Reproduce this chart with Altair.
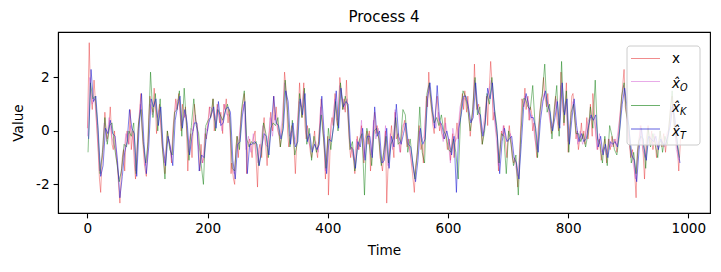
import altair as alt
import pandas as pd

TITLE = "Process 4"
X_LABEL = "Time"
Y_LABEL = "Value"
X_TICKS = [0, 200, 400, 600, 800, 1000]
Y_TICKS = [-2, 0, 2]

# true process x: (time, value)
x_series = [
    (0, 0.1), (3, 3.3), (5, 1.5), (8, 0.8), (11, 1.9), (13, 1.2), (15, 0.3), (18, -0.8), (20, -1.8), (22, -2.3),
    (24, -1.2), (27, -0.5), (29, 0.7), (31, 0.0), (33, -0.3), (35, -0.1), (38, 0.9), (41, -0.5), (43, -0.7), (45, 0.0),
    (48, -1.0), (50, -1.3), (52, -2.1), (54, -2.7), (56, -1.8), (58, -1.0), (60, -0.7), (62, -1.5), (64, -0.3), (66, 0.0),
    (69, -0.5), (71, 0.8), (73, -0.7), (76, 0.0), (78, -1.2), (80, -1.8), (82, -1.0), (84, 0.0), (87, 0.8), (89, 1.4),
    (91, 0.0), (93, -0.7), (95, -1.3), (98, -1.7), (100, -0.7), (102, 0.5), (104, 1.3), (106, 0.9), (109, 0.7), (111, 1.6),
    (113, 1.0), (115, -0.1), (118, 0.7), (120, 1.0), (122, 0.2), (124, -0.5), (127, -1.1), (129, -1.6), (131, -0.6), (133, 0.0),
    (135, -0.3), (138, -0.7), (140, -1.2), (142, 0.0), (144, 0.5), (147, 1.2), (149, 0.8), (152, 1.4), (154, 0.8), (156, 0.0),
    (158, 1.0), (161, 0.5), (163, 0.9), (165, 0.0), (167, -1.5), (169, -0.5), (172, -0.1), (174, -1.0), (176, 0.2), (178, 1.0),
    (180, 0.4), (183, 0.2), (185, -0.7), (187, -1.5), (189, -0.5), (191, -1.2), (194, -1.0), (196, -0.1), (198, -0.3), (200, 0.2),
    (203, 0.9), (205, 0.5), (207, 0.7), (209, 1.2), (211, 0.0), (214, 0.5), (216, 1.0), (218, 0.7), (220, 0.3), (222, 0.7),
    (225, -0.1), (227, 1.0), (229, 0.8), (231, 1.2), (234, 0.3), (236, 0.8), (238, -0.3), (239, -1.6), (240, -1.2), (243, -1.8),
    (245, -2.0), (247, -0.6), (249, -0.2), (251, -1.0), (254, 0.0), (256, 0.7), (258, 0.9), (261, 1.4), (263, 0.7), (265, -1.6),
    (267, -0.5), (270, -0.3), (272, -0.6), (274, -1.0), (276, -0.3), (279, 0.0), (281, -1.2), (283, -2.1), (285, -0.7), (287, -0.5),
    (290, -1.0), (292, 0.0), (294, 0.5), (296, -0.3), (299, -1.3), (301, -0.3), (303, 0.0), (305, 0.7), (308, 0.0), (310, 1.3),
    (312, 0.4), (314, 0.9), (317, 0.0), (319, -0.2), (321, -0.6), (323, 0.0), (325, 0.3), (328, 2.2), (330, 1.7), (332, 1.0),
    (333, 0.0), (335, -0.6), (337, -0.3), (340, 0.2), (342, -0.1), (344, -0.7), (346, -1.6), (349, 0.0), (351, 0.8), (353, 1.8),
    (355, 1.0), (357, 0.5), (360, 1.8), (362, 0.2), (364, -0.3), (366, 0.2), (368, -0.2), (371, -0.8), (373, -1.0), (375, -0.6),
    (378, 0.0), (380, -0.6), (383, -1.0), (385, -0.2), (387, 0.4), (389, 1.2), (392, 0.0), (394, -0.6), (396, -1.8), (398, -1.0),
    (400, -0.2), (401, -2.4), (403, -1.2), (405, 0.2), (407, 0.5), (409, 0.2), (412, 1.4), (414, 0.5), (416, 0.2), (418, 0.9),
    (420, 2.0), (423, 1.3), (425, 0.8), (427, 1.2), (429, 0.7), (431, 1.9), (434, 0.3), (436, -0.5), (438, -1.0), (440, -0.6),
    (443, -1.1), (445, -1.6), (447, -0.8), (449, -0.2), (451, -0.7), (454, -0.3), (456, 0.2), (458, -0.6), (460, -1.2), (462, -0.3),
    (465, 0.0), (467, -0.5), (469, 0.0), (471, -1.5), (474, -0.6), (476, 0.2), (478, 0.7), (480, -0.1), (482, 0.2), (485, -0.3),
    (487, -1.0), (489, -1.2), (491, -1.5), (494, -0.6), (496, 0.0), (498, -2.7), (500, -1.5), (502, -1.0), (504, -0.3), (506, 0.2),
    (508, -0.5), (510, -1.0), (512, 0.7), (514, -0.3), (517, -0.1), (519, -0.5), (521, -0.8), (523, -0.2), (526, 0.2), (528, 0.4),
    (530, -0.2), (532, -0.6), (534, -0.3), (537, -0.8), (539, -1.2), (541, -1.6), (544, -2.3), (546, -1.3), (548, -1.0), (550, -0.5),
    (552, 0.2), (555, -0.7), (557, -0.5), (559, -1.2), (562, 0.3), (564, 1.3), (566, 0.9), (568, 2.2), (570, 1.3), (573, 0.7),
    (575, 0.2), (577, -0.1), (579, 0.7), (582, 1.3), (584, 0.5), (586, 0.0), (588, 0.3), (590, -0.1), (593, -0.3), (595, 0.5),
    (597, -0.3), (599, -0.7), (602, -0.3), (604, -1.1), (606, -0.6), (608, -0.1), (610, -1.0), (613, -0.2), (615, 0.3), (617, -0.3),
    (619, 0.4), (622, 1.0), (624, 1.4), (626, 0.8), (628, 1.5), (631, 0.7), (633, 1.3), (635, 0.5), (637, -0.2), (639, 0.3),
    (642, 0.9), (644, 2.5), (646, 1.3), (648, 0.8), (651, 1.0), (653, 0.5), (655, 0.0), (657, -0.5), (659, -0.1), (662, 0.5),
    (664, 1.3), (666, 0.2), (667, 0.9), (669, 1.7), (671, 2.6), (673, 1.9), (675, 0.4), (677, 0.7), (680, 0.0), (682, -0.3),
    (684, -1.5), (687, -0.5), (689, 0.0), (691, -0.2), (693, 0.2), (696, -0.5), (698, -1.0), (700, -0.2), (702, 0.2), (705, -0.5),
    (707, -1.0), (709, -1.2), (711, -1.0), (714, -1.3), (716, -2.1), (718, -1.7), (719, -1.0), (721, 0.2), (723, 1.2), (726, 0.9),
    (728, 1.6), (730, 0.8), (733, 1.3), (735, 0.4), (737, 0.9), (739, 0.7), (741, 0.0), (743, 0.3), (745, -0.3), (748, -1.0),
    (750, 0.0), (752, 0.5), (755, 1.2), (757, 1.3), (759, 2.0), (761, 1.3), (764, 0.9), (766, 1.4), (768, 0.8), (770, 0.4),
    (772, -0.1), (775, 0.3), (777, 0.9), (779, 1.3), (781, 0.5), (784, 0.0), (786, 0.5), (788, 2.2), (791, 0.9), (793, 0.2),
    (795, 0.9), (797, 1.8), (800, -0.8), (802, 0.0), (804, 0.5), (806, 1.3), (808, 1.4), (811, 0.5), (813, -0.3), (815, 0.0),
    (817, -0.7), (820, -0.2), (822, 0.3), (824, -0.3), (826, 0.0), (828, -0.5), (831, 0.5), (833, -0.3), (835, 0.2), (837, 1.0),
    (840, -0.2), (841, 1.4), (844, 0.5), (847, -0.3), (849, -0.7), (852, -0.3), (855, -1.1), (858, -0.7), (861, -0.3), (864, -1.2),
    (867, -0.3), (870, -0.7), (873, -0.2), (875, -0.6), (878, -0.3), (881, -0.8), (884, 0.0), (887, 0.8), (890, 1.5), (893, 2.3),
    (895, 0.9), (898, 0.5), (901, -0.3), (904, -1.0), (907, -0.7), (910, -1.3), (913, -2.5), (915, -0.8), (918, -0.3), (921, 0.2),
    (924, -0.5), (927, -1.8), (930, -0.3), (933, 0.2), (936, -0.5), (939, 0.0), (941, -0.7), (944, -0.2), (947, -1.0), (950, -0.5),
    (953, 0.0), (956, -0.6), (959, -0.1), (962, -0.8), (964, -0.3), (967, 0.0), (970, 0.8), (973, 1.3), (976, 0.3), (979, -0.3),
    (982, -0.7), (984, -1.5), (987, -0.3),
]

# estimates, one value every 4 time steps
est_times = list(range(0, 988, 4))

xo_vals = [
    -0.2, 2.0, 1.0, 1.2, 0.1, -1.5, -1.0, 0.3, -0.4, 0.5,
    -0.2, -0.5, -0.8, -1.8, -1.6, -0.9, -0.1, -0.5, 0.2, -0.3,
    -1.5, -0.2, 1.0, -0.1, -1.3, -0.9, 1.0, 0.6, 1.1, 0.5,
    0.8, -0.3, -1.2, -0.5, -0.3, -1.0, 0.3, 1.1, 1.2, 0.2,
    0.5, 0.6, -0.8, 0.1, 0.0, 0.6, -0.5, -0.8, -1.2, 0.1,
    0.0, 0.9, 0.8, 0.4, 0.8, 0.5, 0.0, 1.0, 0.6, 0.6,
    -1.0, -1.6, -0.6, -0.3, 0.5, 1.0, -0.7, -0.2, -0.8, -0.1,
    -0.8, -1.2, -0.5, 0.2, -0.5, -0.6, 0.5, -0.2, 0.6, 0.1,
    -0.2, 0.4, 1.8, 1.2, -0.2, 0.0, -0.5, -0.1, 1.1, 0.9,
    1.5, -0.1, -0.4, -0.7, -0.6, -0.4, -0.8, 0.9, 0.2, -1.5,
    -0.4, -0.3, 0.5, 1.2, 0.4, 1.7, 1.1, 0.8, 1.2, -0.3,
    -0.8, -1.1, -0.3, -0.7, 0.4, -1.0, -0.3, -0.1, -0.9, 0.4,
    -0.3, 0.1, -0.9, -1.2, 0.2, -1.3, -0.1, -0.7, 0.8, -0.1,
    -0.8, 0.2, 0.3, -0.4, -0.7, -1.2, -1.7, -1.2, 0.0, -0.4,
    -0.2, 1.1, 1.7, 1.2, 0.2, 0.1, 0.7, 0.1, -0.4, 0.3,
    -0.3, -1.2, 0.1, -0.4, -0.2, 0.9, 1.2, 1.2, 1.1, 0.4,
    0.4, 1.9, 1.0, 0.5, -0.1, 0.4, 1.1, 1.5, 1.9, 0.7,
    -0.2, -1.3, -0.5, 0.2, -0.3, -0.4, -0.1, -0.9, -1.3, -1.7,
    -0.6, 0.8, 1.3, 1.2, 0.4, 0.6, -0.2, -0.7, 0.3, 1.0,
    1.4, 1.1, 0.6, 0.1, 0.4, 1.2, 0.2, 1.7, 0.7, 1.1,
    -0.4, 0.3, 1.1, 0.3, -0.5, 0.0, -0.5, -0.2, 0.3, 0.5,
    0.5, 0.3, -0.7, -0.1, -0.8, -0.6, -0.9, -0.3, -0.6, -0.3,
    -0.5, 0.2, 0.9, 1.7, 1.0, -0.2, -0.8, -1.2, -1.8, -0.8,
    0.2, -0.7, -1.0, -0.3, -0.2, -0.5, -0.1, -0.6, -0.4, -0.4,
    -0.6, -0.1, 0.1, 0.9, 0.5, -0.7, -1.1,
]

xk_vals = [
    -0.8, 1.8, 1.2, 1.3, 0.2, -1.6, -0.8, 0.5, -0.5, 0.2,
    0.3, -0.6, -1.2, -1.9, -1.4, -0.5, -0.6, 0.0, -0.2, 0.3,
    -1.6, 0.3, 0.8, -0.5, -1.2, -0.4, 2.2, 0.5, 1.4, 0.0,
    1.2, -0.7, -1.8, 0.0, -0.7, -0.9, 0.7, 0.8, 1.5, -0.2,
    1.6, 0.2, -1.1, 0.2, 1.2, 0.2, -0.1, -1.2, -2.0, 0.2,
    0.4, 0.5, 1.2, 0.0, 0.8, 0.6, 0.4, 0.7, 1.0, 0.5,
    -1.4, -1.5, -0.2, -0.7, 0.9, 1.5, -0.3, -0.6, -0.4, -0.5,
    -0.4, -1.3, -0.9, 0.3, -0.1, -1.0, 0.1, 0.3, 0.2, 0.5,
    -0.6, 0.0, 1.9, 0.7, -0.6, 0.4, -0.9, -0.5, 1.4, 0.5,
    1.6, -0.5, 0.1, -1.1, -0.2, -0.8, -0.4, 0.6, -0.3, -1.4,
    0.1, -0.7, 0.1, 1.1, 0.0, 1.8, 0.8, 1.3, 0.9, -0.7,
    -0.4, -1.5, -0.7, -0.3, -0.1, -2.4, 0.1, -0.5, -1.3, 0.0,
    0.1, -0.3, -1.3, -0.8, -0.2, -1.2, -0.5, -0.3, 0.5, -0.5,
    -0.4, 0.8, 0.6, -0.8, -0.3, -1.1, -1.8, -0.8, 0.9, -0.8,
    -1.2, 1.4, 1.8, 0.8, 0.3, 0.5, 0.2, 0.6, 0.0, -0.2,
    -0.7, -0.8, -0.3, -0.8, -1.8, 0.5, 1.5, 1.3, 0.8, 0.0,
    0.8, 2.0, 0.6, 0.9, -0.5, 0.0, 1.4, 1.0, 2.0, 0.9,
    0.2, -1.2, -0.1, -0.2, -1.6, 0.0, -0.5, -1.3, -0.9, -2.4,
    -0.2, 1.2, 1.2, 0.9, 0.8, 1.7, 0.2, -1.0, 0.7, 1.4,
    2.5, 0.7, 1.0, -0.3, 0.8, 1.7, -0.2, 2.6, 0.3, 1.5,
    -0.8, 0.7, 1.0, -0.1, -0.1, -0.4, -0.1, -0.6, -0.1, 0.9,
    0.1, 1.9, -0.3, -0.5, -1.2, -0.2, -1.3, 0.2, -0.2, -0.7,
    -0.9, -0.2, 1.3, 1.8, 0.6, 0.2, -1.2, -0.8, -1.6, -0.4,
    -0.2, -0.3, -1.4, 0.1, -0.6, -0.1, -0.5, -1.0, 0.0, -0.8,
    -0.2, -0.5, 0.5, 1.5, 0.1, -0.3, -1.0,
]

xt_vals = [
    -0.3, 2.3, 1.1, 1.3, 0.0, -1.7, -1.3, 0.1, -0.1, 0.4,
    -0.1, -0.2, -1.1, -2.5, -1.7, -0.8, -0.4, 0.8, 0.1, -0.1,
    -1.7, 0.1, 1.4, -0.4, -1.6, -0.6, 1.2, 0.9, 1.2, 0.2,
    0.9, -0.6, -1.3, -0.2, -0.6, -1.3, 0.4, 0.9, 1.3, 0.1,
    0.8, 0.3, -0.9, -0.2, 0.3, 0.3, -1.5, -0.9, -1.0, -0.2,
    0.3, 0.6, 0.9, 0.1, 1.1, 0.2, 0.3, 0.8, 0.9, 0.7,
    -1.1, -1.8, -0.5, -0.4, 0.6, 1.1, -1.6, -0.5, -0.5, -0.4,
    -0.5, -1.3, -0.6, -0.1, -0.2, -0.9, 0.2, 1.3, 0.3, 0.2,
    -0.3, 0.1, 1.5, 1.1, -0.5, 0.3, -0.6, -0.4, 1.2, 0.6,
    1.4, -0.4, -0.1, -0.8, -0.5, -0.7, -0.5, 1.3, -0.1, -1.6,
    -0.3, -0.4, 0.2, 1.5, 0.1, 1.6, 0.9, 1.1, 1.0, -0.6,
    -0.7, -1.4, -0.4, -0.6, 0.1, -1.1, -0.2, -0.2, -1.0, 0.9,
    -0.2, 0.0, -1.2, -1.1, 0.1, -1.4, -0.2, -0.6, 1.0, -0.2,
    -0.5, -0.1, 0.3, -0.5, -0.6, -1.3, -1.9, -1.1, 0.1, -0.5,
    -0.3, 1.2, 1.8, 0.9, 0.1, 1.7, 0.4, 0.2, -0.3, 0.0,
    -0.4, -0.9, -0.2, -2.3, 0.1, 0.6, 1.3, 1.3, 0.9, 0.3,
    0.5, 1.8, 0.7, 0.6, -0.2, 0.3, 1.6, 1.2, 1.8, 0.6,
    -0.1, -1.6, -0.4, 0.1, -0.4, -0.3, -0.2, -1.0, -1.2, -1.8,
    -0.5, 0.9, 1.4, 1.0, 0.5, 0.5, 0.1, -0.8, 0.4, 1.1,
    1.5, 1.0, 0.7, 0.0, 0.5, 1.1, 0.1, 1.8, 0.6, 1.2,
    -0.5, 0.4, 1.2, 0.2, -0.4, -0.1, -0.4, -0.3, 0.2, 0.6,
    0.4, 0.6, -0.6, -0.2, -0.9, -0.5, -1.0, -0.4, -0.5, -0.4,
    -0.6, 0.1, 1.0, 1.6, 0.9, -0.1, -0.9, -1.1, -1.9, -0.7,
    0.1, -0.6, -1.1, -0.2, -0.3, -0.4, -0.2, -0.7, -0.3, -0.5,
    -0.5, -0.2, 0.2, 1.0, 0.4, -0.6, -1.2,
]

LEGEND_NAMES = ["x", "x\u0302", "x\u0302", "x\u0302"]
LEGEND_SUBS = ["", "O", "K", "T"]
COLORS = ["#e31a1c", "#c837c8", "#0b7d0b", "#1414d2"]
OPACITIES = [0.5, 0.42, 0.6, 0.68]

n = len(est_times)
df_x = pd.DataFrame(x_series, columns=["t", "v"])
df_o = pd.DataFrame({"t": est_times[:len(xo_vals)], "v": xo_vals[:n]})
df_k = pd.DataFrame({"t": [t + 1 for t in est_times][:len(xk_vals)], "v": xk_vals[:n]})
df_t = pd.DataFrame({"t": [t + 2 for t in est_times][:len(xt_vals)], "v": xt_vals[:n]})

FONT = "DejaVu Sans"
FS = 13.6

x_enc = alt.X("t:Q", scale=alt.Scale(domain=[-49, 1036], nice=False, zero=False),
              axis=alt.Axis(values=X_TICKS, title=X_LABEL, format="d", labelPadding=4, titlePadding=8))
y_enc = alt.Y("v:Q", scale=alt.Scale(domain=[-3.07, 3.70], nice=False, zero=False),
              axis=alt.Axis(values=Y_TICKS, title=Y_LABEL, labelExpr="toString(datum.value)",
                            labelPadding=4, titlePadding=10))

layers = []
for df, c, op in zip([df_x, df_o, df_k, df_t], COLORS, OPACITIES):
    layers.append(alt.Chart(df).mark_line(color=c, opacity=op, strokeWidth=0.8, clip=True)
                  .encode(x=x_enc, y=y_enc))

one = pd.DataFrame({"k": [0]})
# legend box (upper right inside plot)
layers.append(alt.Chart(one).mark_rect(fill="white", fillOpacity=0.8, stroke="#cccccc",
                                        strokeWidth=1, cornerRadius=3)
              .encode(x=alt.value(569), x2=alt.value(642), y=alt.value(14), y2=alt.value(113)))
row_y = [26.5, 49.5, 73.5, 97]
base_y = [31, 56, 80, 104]
for i in range(4):
    layers.append(alt.Chart(one).mark_rule(color=COLORS[i], opacity=OPACITIES[i], strokeWidth=1)
                  .encode(x=alt.value(573), x2=alt.value(602), y=alt.value(row_y[i])))
    layers.append(alt.Chart(one).mark_text(align="left", baseline="alphabetic", font=FONT, fontSize=FS,
                                           fontStyle="normal" if i == 0 else "italic", color="black")
                  .encode(x=alt.value(614), y=alt.value(base_y[i]), text=alt.value(LEGEND_NAMES[i])))
    if LEGEND_SUBS[i]:
        layers.append(alt.Chart(one).mark_text(align="left", baseline="alphabetic", font=FONT, fontSize=9.7,
                                               fontStyle="italic", color="black")
                      .encode(x=alt.value(622), y=alt.value(base_y[i] + 3), text=alt.value(LEGEND_SUBS[i])))

chart = (
    alt.layer(*layers)
    .properties(width=652, height=181, background="white",
                title=alt.TitleParams(TITLE, font=FONT, fontSize=15, fontWeight="normal",
                                      color="black", anchor="middle", offset=7),
                autosize=alt.AutoSizeParams(type="none"),
                padding={"left": 50, "top": 24, "right": 3, "bottom": 51})
    .configure_view(stroke="black", strokeWidth=1.1)
    .configure_axis(labelFont=FONT, titleFont=FONT, labelFontSize=FS, titleFontSize=FS,
                    titleFontWeight="normal", labelColor="black", titleColor="black",
                    domainColor="black", domainWidth=1.1, tickColor="black", tickWidth=1.1,
                    tickSize=4.9, grid=False)
)

chart.save("out.html", embed_options={"renderer": "svg", "actions": False})
